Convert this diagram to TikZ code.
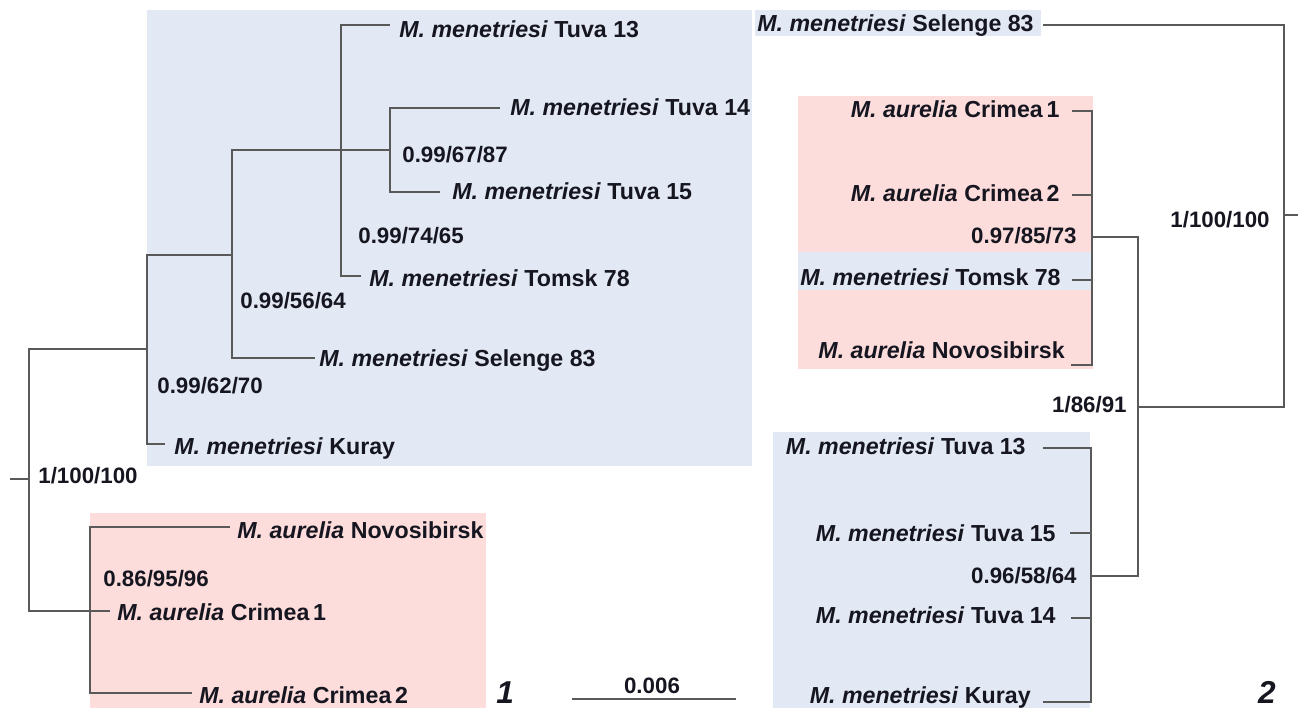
\documentclass[tikz,border=0pt]{standalone}
\usepackage{fontspec}
\setmainfont{Liberation Sans}
\usepackage{xcolor}
\usepackage{tikz}
\usetikzlibrary{positioning}

\definecolor{cladeblue}{RGB}{227,233,244}
\definecolor{cladepink}{RGB}{253,220,220}
\definecolor{inkdark}{RGB}{22,22,32}
\newcommand{\menet}{\textit{M. menetriesi}}
\newcommand{\aurel}{\textit{M. aurelia}}

\begin{document}
\begin{tikzpicture}[x=0.02cm,y=-0.02cm,
  every node/.style={inner sep=0pt,text=inkdark},
  branch/.style={draw=black!65,line width=0.8pt},
  taxon/.style={font=\fontsize{13.2}{15}\selectfont\bfseries},
  support/.style={font=\fontsize{12.7}{14}\selectfont\bfseries},
  panel/.style={font=\fontsize{18}{20}\selectfont\bfseries\itshape}]
  \useasboundingbox (0,0) rectangle (1298,708);
  % clade shading
  \fill[cladeblue] (147,10) rectangle (752,466);
  \fill[cladepink] (90,513) rectangle (486,708);
  \fill[cladeblue] (755,10) rectangle (1041,36);
  \fill[cladepink] (798,96) rectangle (1093,369);
  \fill[cladeblue] (798,252) rectangle (1093,290);
  \fill[cladeblue] (773,432) rectangle (1090,708);

  % tree 1
  \coordinate (stub) at (10,479);
  \coordinate (root) at (29,479);
  \coordinate (nA) at (147,349);
  \coordinate (nB) at (232,255);
  \coordinate (nC) at (341,150);
  \coordinate (nD) at (390,150);
  \coordinate (nE) at (90,611);
  \coordinate (tT13) at (390,25);
  \coordinate (tT14) at (500,108);
  \coordinate (tT15) at (440,192);
  \coordinate (tTom) at (361,276);
  \coordinate (tSel) at (315,358);
  \coordinate (tKur) at (165,444);
  \coordinate (tNov) at (230,527);
  \coordinate (tCr1) at (110,611);
  \coordinate (tCr2) at (192,693);
  \draw[branch] (stub) -- (root);
  \foreach \t in {nA,tCr1} \draw[branch] (root) |- (\t);
  \foreach \t in {nB,tKur} \draw[branch] (nA) |- (\t);
  \foreach \t in {nD,tSel} \draw[branch] (nB) |- (\t);
  \foreach \t in {tT13,tTom} \draw[branch] (nC) |- (\t);
  \foreach \t in {tT14,tT15} \draw[branch] (nD) |- (\t);
  \foreach \t in {tNov,tCr2} \draw[branch] (nE) |- (\t);

  \node[taxon,anchor=base west] (lT13) at (399,37) {\menet{} Tuva 13};
  \node[taxon,anchor=base west] (lT14) at (510,115) {\menet{} Tuva 14};
  \node[support,anchor=base west] (sD) at (402,162) {0.99/67/87};
  \node[taxon,anchor=base west] (lT15) at (452,199) {\menet{} Tuva 15};
  \node[support,anchor=base west] (sC) at (358,243) {0.99/74/65};
  \node[taxon,anchor=base west] (lTom) at (369,286) {\menet{} Tomsk 78};
  \node[support,anchor=base west] (sB) at (240,308) {0.99/56/64};
  \node[taxon,anchor=base west] (lSel) at (319,366) {\menet{} Selenge 83};
  \node[support,anchor=base west] (sA) at (157,393) {0.99/62/70};
  \node[taxon,anchor=base west] (lKur) at (174,454) {\menet{} Kuray};
  \node[support,anchor=base west] (sR) at (38,483) {1/100/100};
  \node[taxon,anchor=base west] (lNov) at (237,538) {\aurel{} Novosibirsk};
  \node[support,anchor=base west] (sE) at (103,586) {0.86/95/96};
  \node[taxon,anchor=base west] (lCr1) at (117,620) {\aurel{} Crimea\,1};
  \node[taxon,anchor=base west] (lCr2) at (199,703) {\aurel{} Crimea\,2};
  \node[panel,anchor=base west] (p1) at (496,703) {1};

  % scale bar
  \coordinate (barL) at (572,699);
  \coordinate (barR) at (736,699);
  \draw[branch] (barL) -- (barR);
  \node[support,anchor=base] (bar) at (652,693) {0.006};

  % tree 2
  \coordinate (rootR) at (1284,215);
  \coordinate (stubR) at (1298,215);
  \coordinate (nF) at (1138,407);
  \coordinate (nG) at (1092,237);
  \coordinate (nH) at (1091,576);
  \coordinate (uSel) at (1043,25);
  \coordinate (uCr1) at (1072,111);
  \coordinate (uCr2) at (1072,195);
  \coordinate (uTom) at (1072,280);
  \coordinate (uNov) at (1071,365);
  \coordinate (uT13) at (1043,448);
  \coordinate (uT15) at (1070,533);
  \coordinate (uT14) at (1071,618);
  \coordinate (uKur) at (1043,702);
  \draw[branch] (rootR) -- (stubR);
  \foreach \t in {uSel,nF} \draw[branch] (rootR) |- (\t);
  \foreach \t in {nG,nH} \draw[branch] (nF) |- (\t);
  \foreach \t in {uCr1,uCr2,uTom,uNov} \draw[branch] (nG) |- (\t);
  \foreach \t in {uT13,uT15,uT14,uKur} \draw[branch] (nH) |- (\t);

  \node[taxon,anchor=base east] (mSel) at (1034,31) {\menet{} Selenge 83};
  \node[taxon,anchor=base east] (mCr1) at (1060,117) {\aurel{} Crimea\,1};
  \node[taxon,anchor=base east] (mCr2) at (1060,201) {\aurel{} Crimea\,2};
  \node[support,anchor=base east] (sG) at (1077,243) {0.97/85/73};
  \node[taxon,anchor=base east] (mTom) at (1061,285) {\menet{} Tomsk 78};
  \node[taxon,anchor=base east] (mNov) at (1065,358) {\aurel{} Novosibirsk};
  \node[support,anchor=base east] (sRR) at (1270,227) {1/100/100};
  \node[support,anchor=base east] (sF) at (1127,412) {1/86/91};
  \node[taxon,anchor=base east] (mT13) at (1026,454) {\menet{} Tuva 13};
  \node[taxon,anchor=base east] (mT15) at (1056,541) {\menet{} Tuva 15};
  \node[support,anchor=base east] (sH) at (1077,583) {0.96/58/64};
  \node[taxon,anchor=base east] (mT14) at (1056,623) {\menet{} Tuva 14};
  \node[taxon,anchor=base east] (mKur) at (1031,703) {\menet{} Kuray};
  \node[panel,anchor=base east] (p2) at (1276,703) {2};
\end{tikzpicture}
\end{document}
